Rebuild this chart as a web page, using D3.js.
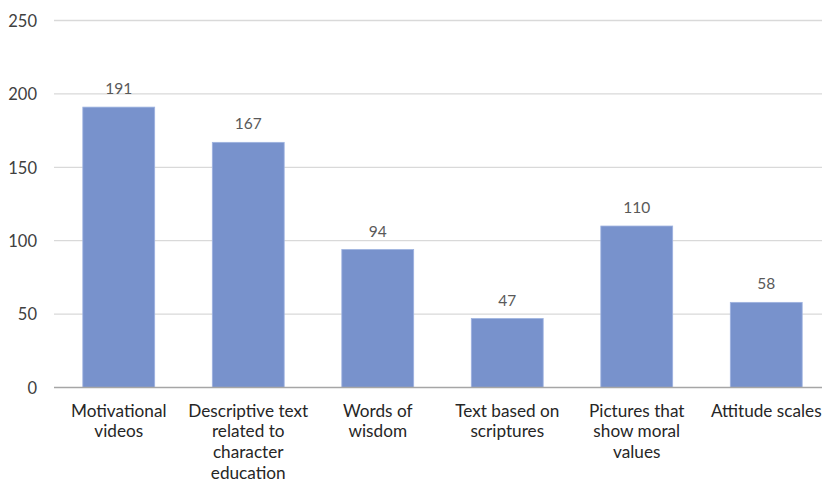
<!DOCTYPE html>
<html>
<head>
<meta charset="utf-8">
<script src="https://cdn.jsdelivr.net/npm/d3@7"></script>
<style>
  html, body { margin: 0; padding: 0; background: #fff; }
  svg { display: block; font-family: Lato, "Open Sans", sans-serif; }
</style>
</head>
<body>
<svg id="chart" width="822" height="482"></svg>
<script>
// Categories (multi-line labels) and counts
const categories = [
  ["Motivational", "videos"],
  ["Descriptive text", "related to", "character", "education"],
  ["Words of", "wisdom"],
  ["Text based on", "scriptures"],
  ["Pictures that", "show moral", "values"],
  ["Attitude scales"]
];
const values = [191, 167, 94, 47, 110, 58];
const yTicks = [0, 50, 100, 150, 200, 250];

(function draw() {
  const svg = d3.select("#chart");
  const plotLeft = 54, plotRight = 831, plotTop = 20.5, plotBottom = 387.5;

  const keys = categories.map(c => c.join(" "));
  const x = d3.scaleBand().domain(keys).range([plotLeft, plotRight])
    .paddingInner(0.445).paddingOuter(0.2225);
  const y = d3.scaleLinear().domain([0, 250]).range([plotBottom, plotTop]);

  // Horizontal gridlines
  svg.append("g")
    .selectAll("line")
    .data(yTicks.filter(t => t > 0))
    .join("line")
    .attr("x1", plotLeft).attr("x2", plotRight)
    .attr("y1", d => y(d)).attr("y2", d => y(d))
    .attr("stroke", "#d9d9d9").attr("stroke-width", 1.3);

  // Y axis labels
  const yAxis = d3.axisLeft(y).tickValues(yTicks).tickSize(0).tickPadding(0);
  svg.append("g")
    .attr("transform", "translate(37,0)")
    .call(yAxis)
    .call(g => g.select(".domain").remove())
    .call(g => g.selectAll("text")
      .attr("font-size", 16.5)
      .attr("font-family", "Lato, 'Open Sans', sans-serif")
      .attr("fill", "#404040")
      .attr("dy", "0.35em"));

  // Bars
  svg.append("g")
    .selectAll("rect")
    .data(values)
    .join("rect")
    .attr("x", (d, i) => x(keys[i]))
    .attr("width", x.bandwidth())
    .attr("y", d => y(d))
    .attr("height", d => y(0) - y(d))
    .attr("fill", "#7892cc")
    .attr("stroke", "#9fb3e0")
    .attr("stroke-width", 0.8);

  // Baseline
  svg.append("line")
    .attr("x1", plotLeft).attr("x2", plotRight)
    .attr("y1", y(0)).attr("y2", y(0))
    .attr("stroke", "#a6a6a6").attr("stroke-width", 1.3);

  // Value labels
  svg.append("g")
    .selectAll("text")
    .data(values)
    .join("text")
    .attr("x", (d, i) => x(keys[i]) + x.bandwidth() / 2)
    .attr("y", d => y(d) - 13)
    .attr("text-anchor", "middle")
    .attr("font-size", 15.5)
    .attr("fill", "#595959")
    .text(d => d);

  // Category labels
  const xl = svg.append("g")
    .selectAll("text")
    .data(categories)
    .join("text")
    .attr("x", (d, i) => x(keys[i]) + x.bandwidth() / 2)
    .attr("y", 416.5)
    .attr("text-anchor", "middle")
    .attr("font-size", 17.2)
    .attr("fill", "#262626");
  xl.selectAll("tspan")
    .data(d => d)
    .join("tspan")
    .attr("x", function () { return d3.select(this.parentNode).attr("x"); })
    .attr("dy", (d, i) => i === 0 ? 0 : 20.7)
    .text(d => d);
})();
</script>
</body>
</html>
